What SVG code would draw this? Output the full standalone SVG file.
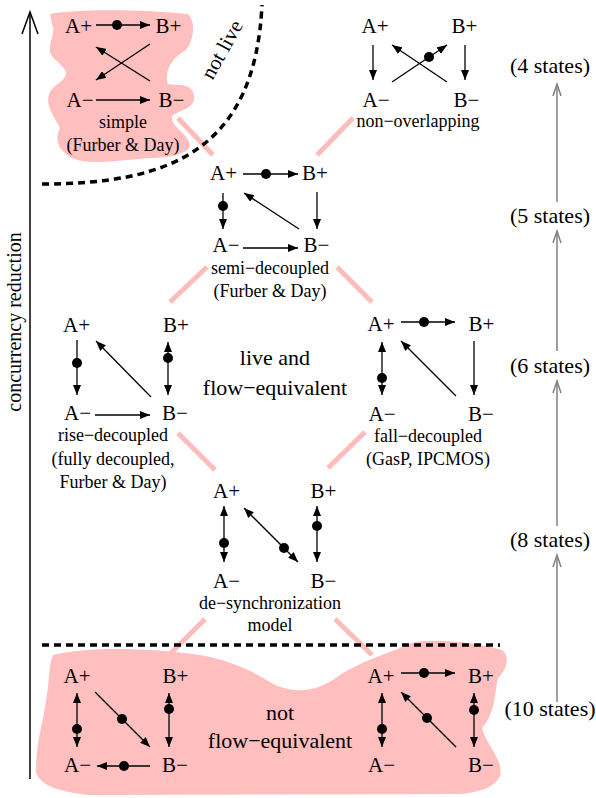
<svg xmlns="http://www.w3.org/2000/svg" width="596" height="798" viewBox="0 0 596 798">
<defs>
<style>
text{font-family:'Liberation Serif','Times New Roman',Tinos,'DejaVu Serif',serif;fill:#000;text-anchor:middle}
.n{font-size:21px}
.c{font-size:18px}
.b{font-size:22px}
.e{stroke:#000;stroke-width:1.3;fill:none}
.a{marker-end:url(#ah)}
.d2{marker-start:url(#ah);marker-end:url(#ah)}
.blob{fill:#ffbfbf;stroke:none}
.pl{stroke:#ffbcbc;stroke-width:5;fill:none}
.dash{stroke:#000;stroke-width:3.5;stroke-dasharray:7 5;fill:none}
.g{stroke:#808080;stroke-width:1.5;fill:none}
</style>
<marker id="ah" viewBox="0 0 10 8" refX="10" refY="4" markerWidth="10" markerHeight="8" orient="auto-start-reverse" markerUnits="userSpaceOnUse"><path d="M0,0 L10,4 L0,8 z" fill="#000"/></marker>
</defs>

<g id="backgrounds">
<path class="blob" d="M50,14 C80,8 150,10 188,14 C196,22 194,40 186,50 C172,58 164,70 168,84 C178,86 192,82 194,96 C196,108 180,110 172,116 C170,126 186,132 190,144 C190,154 170,158 150,158 C120,160 90,166 72,158 C58,150 54,140 60,128 C54,116 44,104 50,92 C54,84 66,82 66,72 C62,62 48,58 50,48 C50,38 56,32 52,24 Z"/>
<path class="blob" d="M53,655 C90,646 150,648 200,655 C230,660 255,672 275,685 C300,695 320,690 340,675 C360,662 390,652 410,644 C418,638 470,640 502,650 C510,656 508,668 498,678 C494,695 496,712 482,728 C486,745 504,760 500,776 C494,788 480,792 460,794 L90,795 C60,792 40,786 36,772 C36,740 44,720 46,700 C50,680 48,666 53,655 Z"/>
</g>

<g id="connectors">
<line class="pl" x1="178" y1="118" x2="213" y2="155"/>
<line class="pl" x1="353" y1="118" x2="317" y2="155"/>
<line class="pl" x1="207" y1="267" x2="170" y2="302"/>
<line class="pl" x1="337" y1="267" x2="372" y2="302"/>
<line class="pl" x1="178" y1="433" x2="215" y2="470"/>
<line class="pl" x1="365" y1="432" x2="328" y2="468"/>
<line class="pl" x1="205" y1="619" x2="170" y2="654"/>
<line class="pl" x1="335" y1="619" x2="372" y2="655"/>
<path class="dash" d="M42,184 C170,184 255,150 262,5"/>
<line class="dash" x1="42" y1="645" x2="500" y2="645"/>
<line x1="30" y1="779" x2="30" y2="12" stroke="#000" stroke-width="1.5"/>
<path d="M22,34 L30,12 L38,34" stroke="#000" stroke-width="1.5" fill="none"/>
<line class="g" x1="557" y1="202" x2="557" y2="84"/>
<path class="g" d="M553,96 L557,84 L561,96"/>
<line class="g" x1="557" y1="351" x2="557" y2="231"/>
<path class="g" d="M553,243 L557,231 L561,243"/>
<line class="g" x1="557" y1="526" x2="557" y2="381"/>
<path class="g" d="M553,393 L557,381 L561,393"/>
<line class="g" x1="557" y1="702" x2="557" y2="555"/>
<path class="g" d="M553,567 L557,555 L561,567"/>
</g>

<g id="g-simple">
<text class="n" x="78.5" y="33">A+</text><text class="n" x="168.5" y="33">B+</text>
<text class="n" x="80" y="107">A−</text><text class="n" x="171.5" y="107">B−</text>
<line class="e a" x1="96" y1="25" x2="150" y2="25"/><circle cx="117" cy="25" r="5"/>
<line class="e a" x1="150" y1="44" x2="96" y2="80"/>
<line class="e a" x1="150" y1="81" x2="96" y2="47"/>
<line class="e a" x1="96" y1="100" x2="150" y2="100"/>
<text class="c" x="123" y="128">simple</text>
<text class="c" x="123" y="151">(Furber &amp; Day)</text>
</g>

<g id="notlive"><text style="font-size:21px" transform="translate(228,53) rotate(-61)">not live</text></g>

<g id="g-nonoverlapping">
<text class="n" x="375" y="33">A+</text><text class="n" x="464.5" y="33">B+</text>
<text class="n" x="376" y="107">A−</text><text class="n" x="466.5" y="107">B−</text>
<line class="e a" x1="373" y1="45" x2="373" y2="80"/>
<line class="e a" x1="465" y1="45" x2="465" y2="80"/>
<line class="e a" x1="447" y1="82" x2="392" y2="45"/>
<line class="e a" x1="392" y1="82" x2="447" y2="45"/><circle cx="429" cy="57" r="5"/>
<text class="c" x="418" y="127">non−overlapping</text>
</g>

<g id="g-semi">
<text class="n" x="223.5" y="180">A+</text><text class="n" x="315" y="180">B+</text>
<text class="n" x="226" y="252">A−</text><text class="n" x="316.5" y="252">B−</text>
<line class="e a" x1="243" y1="174" x2="298" y2="174"/><circle cx="266" cy="174" r="5"/>
<line class="e a" x1="223" y1="193" x2="223" y2="229"/><circle cx="223" cy="206" r="5"/>
<line class="e a" x1="317" y1="192" x2="317" y2="229"/>
<line class="e a" x1="299" y1="229" x2="244" y2="193"/>
<line class="e a" x1="243" y1="248" x2="298" y2="248"/>
<text class="c" x="270" y="274">semi−decoupled</text>
<text class="c" x="270" y="297">(Furber &amp; Day)</text>
</g>

<g id="g-rise">
<text class="n" x="76.5" y="332">A+</text><text class="n" x="176" y="332">B+</text>
<text class="n" x="77.5" y="420">A−</text><text class="n" x="175" y="420">B−</text>
<line class="e a" x1="77" y1="340" x2="77" y2="395"/><circle cx="77" cy="363" r="5"/>
<line class="e d2" x1="168" y1="342" x2="168" y2="395"/><circle cx="168" cy="358" r="5"/>
<line class="e a" x1="151" y1="397" x2="96" y2="341"/>
<line class="e a" x1="95" y1="415" x2="150" y2="415"/>
<text class="c" x="113" y="441">rise−decoupled</text>
<text class="c" x="113" y="465">(fully decoupled,</text>
<text class="c" x="113" y="488">Furber &amp; Day)</text>
</g>

<g id="g-fall">
<text class="n" x="381" y="331">A+</text><text class="n" x="481.5" y="331">B+</text>
<text class="n" x="382" y="421">A−</text><text class="n" x="481" y="421">B−</text>
<line class="e a" x1="401" y1="322" x2="455" y2="322"/><circle cx="424" cy="322" r="5"/>
<line class="e d2" x1="382" y1="342" x2="382" y2="395"/><circle cx="382" cy="378" r="5"/>
<line class="e a" x1="474" y1="341" x2="474" y2="395"/>
<line class="e a" x1="456" y1="396" x2="401" y2="341"/>
<text class="c" x="428" y="442">fall−decoupled</text>
<text class="c" x="428" y="465">(GasP, IPCMOS)</text>
</g>

<g id="live-label">
<text class="b" x="275" y="365">live and</text>
<text class="b" x="275" y="395">flow−equivalent</text>
</g>

<g id="g-desync">
<text class="n" x="226.5" y="498">A+</text><text class="n" x="323.5" y="498">B+</text>
<text class="n" x="226.5" y="588">A−</text><text class="n" x="323.5" y="588">B−</text>
<line class="e d2" x1="224" y1="506" x2="224" y2="562"/><circle cx="224" cy="543" r="5"/>
<line class="e d2" x1="317" y1="506" x2="317" y2="562"/><circle cx="317" cy="526" r="5"/>
<line class="e d2" x1="244" y1="508" x2="298" y2="562"/><circle cx="284" cy="548" r="5"/>
<text class="c" x="270" y="609">de−synchronization</text>
<text class="c" x="270" y="631">model</text>
</g>

<g id="g-bl">
<text class="n" x="77" y="683">A+</text><text class="n" x="175.5" y="683">B+</text>
<text class="n" x="77.5" y="772">A−</text><text class="n" x="175" y="772">B−</text>
<line class="e d2" x1="77" y1="693" x2="77" y2="747"/><circle cx="77" cy="729" r="5"/>
<line class="e d2" x1="169" y1="693" x2="169" y2="747"/><circle cx="169" cy="709" r="5"/>
<line class="e a" x1="95" y1="692" x2="150" y2="747"/><circle cx="122" cy="719" r="5"/>
<line class="e a" x1="150" y1="766" x2="97" y2="766"/><circle cx="124" cy="766" r="5"/>
</g>

<g id="notflow-label">
<text class="b" x="280" y="720">not</text>
<text class="b" x="280" y="748">flow−equivalent</text>
</g>

<g id="g-br">
<text class="n" x="381" y="683">A+</text><text class="n" x="481" y="683">B+</text>
<text class="n" x="381.5" y="772">A−</text><text class="n" x="481" y="772">B−</text>
<line class="e a" x1="401" y1="673" x2="455" y2="673"/><circle cx="424" cy="673" r="5"/>
<line class="e d2" x1="382" y1="693" x2="382" y2="747"/><circle cx="382" cy="729" r="5"/>
<line class="e d2" x1="474" y1="693" x2="474" y2="747"/><circle cx="474" cy="710" r="5"/>
<line class="e a" x1="456" y1="747" x2="401" y2="692"/><circle cx="427" cy="718" r="5"/>
</g>

<g id="states">
<text class="b" x="550" y="73">(4 states)</text>
<text class="b" x="550" y="223">(5 states)</text>
<text class="b" x="550" y="373">(6 states)</text>
<text class="b" x="550" y="547">(8 states)</text>
<text class="b" x="550" y="716">(10 states)</text>
</g>

<g id="axis-label">
<text style="font-size:20px" transform="translate(21,322) rotate(-90)">concurrency reduction</text>
</g>
</svg>
